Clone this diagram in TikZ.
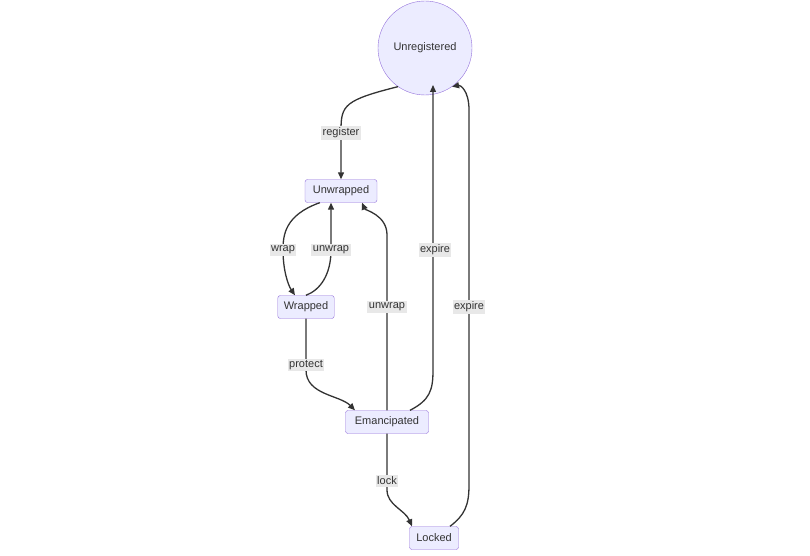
\documentclass[tikz,border=0pt]{standalone}
\usepackage{fontspec}
\setmainfont{Liberation Sans}
\usetikzlibrary{arrows.meta}
\definecolor{sfill}{HTML}{ECECFF}
\definecolor{sline}{HTML}{9370DB}
\definecolor{eline}{HTML}{333333}
\definecolor{lbg}{HTML}{E8E8E8}
\begin{document}
\begin{tikzpicture}[x=1pt,y=-1pt,
  st/.style={draw=sline,fill=sfill,rounded corners=2.5pt,minimum height=23pt,inner xsep=6pt,font=\fontsize{11}{13}\selectfont,text=eline},
  ed/.style={draw=eline,line width=1.3pt,-{Triangle[length=7pt,width=6pt]}},
  lb/.style={fill=lbg,inner sep=1.5pt,font=\fontsize{11}{13}\selectfont,text=eline}]
\useasboundingbox (0,0) rectangle (810,556);
\node[circle,draw=sline,fill=sfill,minimum size=94pt,font=\fontsize{11}{13}\selectfont,text=eline] (U) at (425,48) {Unregistered};
\node[st,minimum width=72pt] (UW) at (341,191) {Unwrapped};
\node[st,minimum width=56pt] (W) at (306,307) {Wrapped};
\node[st,minimum width=83pt] (E) at (387,422) {Emancipated};
\node[st,minimum width=49pt] (L) at (434,538) {Locked};
\draw[ed] (U.235) .. controls (345,100) and (341,105) .. (341,130) -- (UW.north);
\node[lb] at (341,133) {register};
\draw[ed] (UW.south west) ++(15,0) .. controls (285,215) and (283,235) .. (283,250) .. controls (283,270) and (288,285) .. ([xshift=-11pt]W.north);
\node[lb] at (283,250) {wrap};
\draw[ed] (W.north) .. controls (320,290) and (331,275) .. (331,250) -- ([xshift=-10pt]UW.south);
\node[lb] at (331,250) {unwrap};
\draw[ed] (W.south) -- (306,370) .. controls (306,395) and (340,395) .. ([xshift=-32pt]E.north);
\node[lb] at (306,365) {protect};
\draw[ed] (E.north) -- (387,235) .. controls (387,215) and (365,210) .. ([xshift=21pt]UW.south);
\node[lb] at (387,307) {unwrap};
\draw[ed] ([xshift=23pt]E.north) .. controls (430,400) and (433,390) .. (433,370) -- (433,85);
\node[lb] at (435,250) {expire};
\draw[ed] (E.south) -- (387,490) .. controls (387,505) and (405,510) .. ([xshift=-22pt]L.north);
\node[lb] at (387,481) {lock};
\draw[ed] ([xshift=16pt]L.north) .. controls (465,515) and (469,505) .. (469,485) -- (469,110) .. controls (469,90) and (460,85) .. (U.-55);
\node[lb] at (469,307) {expire};
\end{tikzpicture}
\end{document}
